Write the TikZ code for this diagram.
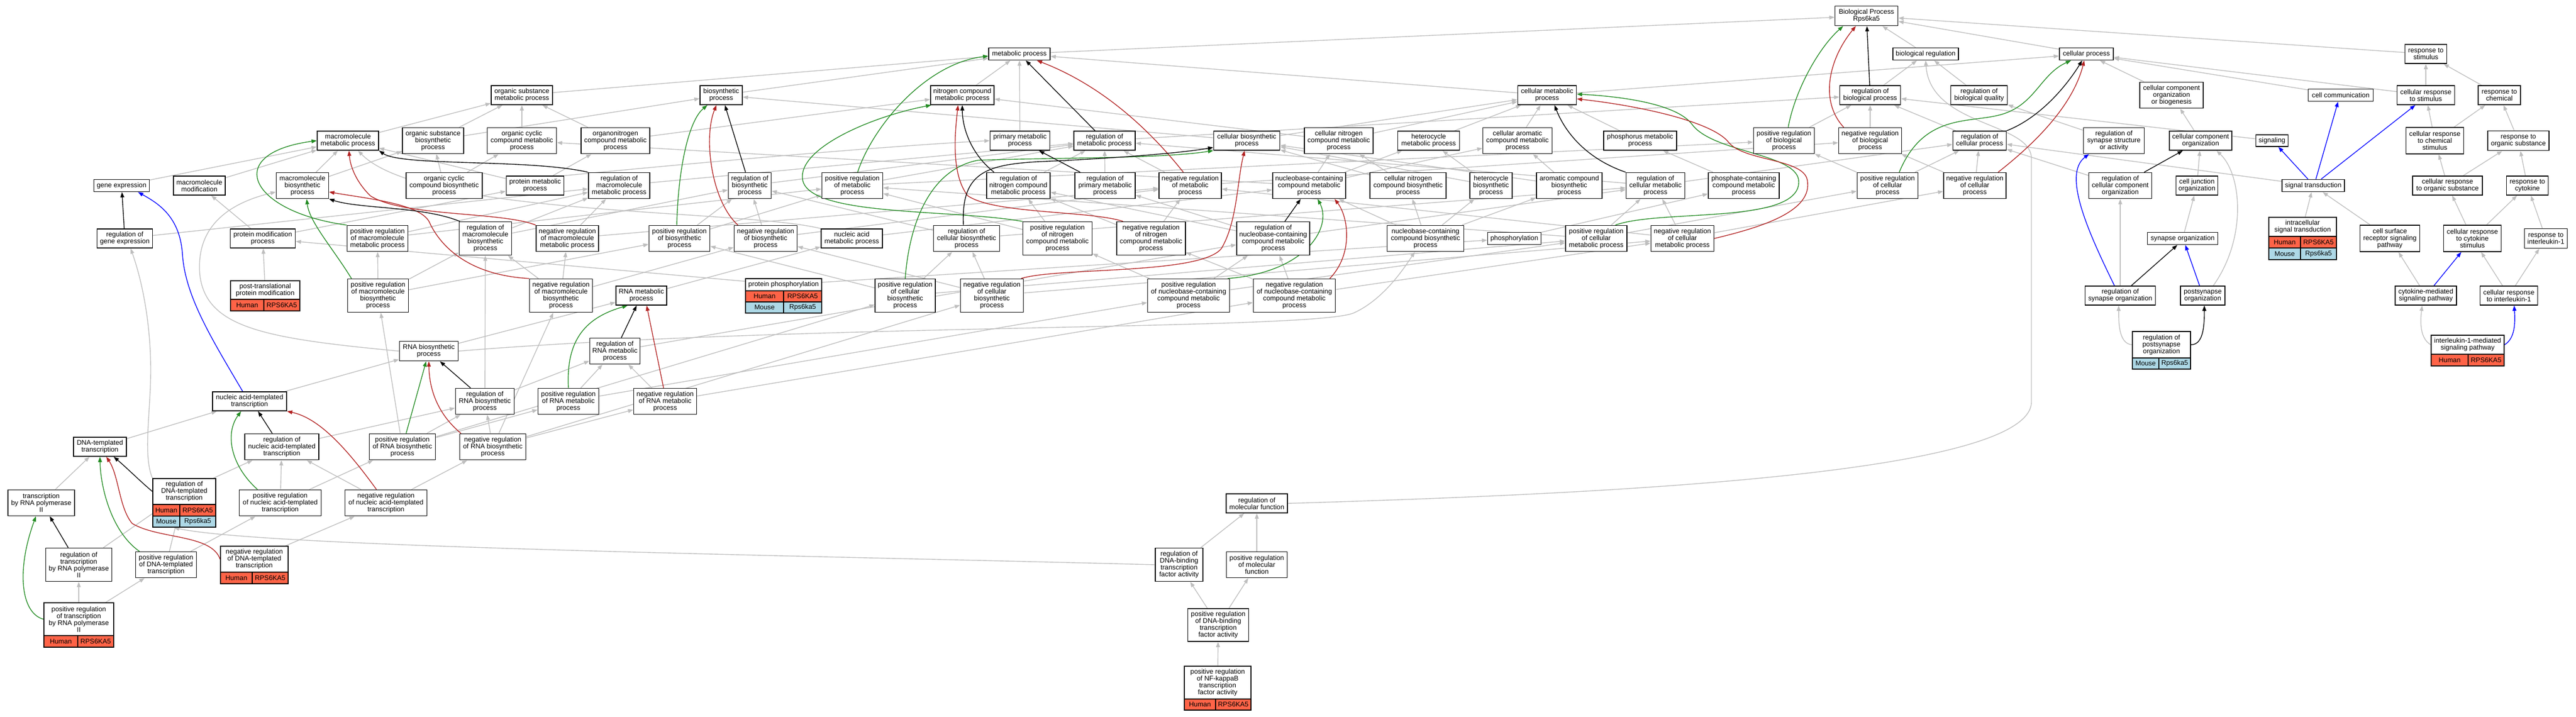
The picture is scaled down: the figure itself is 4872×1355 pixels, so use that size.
\documentclass[tikz,border=0pt]{standalone}
\usepackage{fontspec}
\setmainfont{Liberation Sans}
\usetikzlibrary{arrows.meta,backgrounds,calc}
\definecolor{cgray}{HTML}{BEBEBE}
\definecolor{cgreen}{HTML}{228B22}
\definecolor{cred}{HTML}{B22222}
\definecolor{cblue}{HTML}{0000FF}
\definecolor{human}{HTML}{FF6347}
\definecolor{mouse}{HTML}{ADD8E6}
\tikzset{
  gonode/.style={draw=black,line width=0.8pt,fill=white,inner sep=0pt,align=center,font=\fontsize{6.4pt}{6.5pt}\selectfont},
  cellnode/.style={draw=black,line width=0.8pt,inner sep=0pt,font=\fontsize{6.4pt}{6.5pt}\selectfont},
  arr/.style={line width=0.7pt,-{Triangle[length=5pt,width=3.6pt]}},
  eg/.style={arr,draw=cgray},
  ek/.style={arr,draw=black},
  egr/.style={arr,draw=cgreen},
  erd/.style={arr,draw=cred},
  ebl/.style={arr,draw=cblue},
}
\newcommand{\gonode}[6]{\node[gonode,minimum width=#4*0.5pt,minimum height=#5*0.5pt] (#1) at (#2,#3) {#6};}
\newcommand{\gorow}[9]{%
  \node[cellnode,fill=#7,minimum width=(#3-#2)*0.5pt,minimum height=(#6-#5)*0.5pt] (#1L) at ({(#2+#3)/2},{(#5+#6)/2}) {#8};
  \node[cellnode,fill=#7,minimum width=(#4-#3)*0.5pt,minimum height=(#6-#5)*0.5pt] (#1R) at ({(#3+#4)/2},{(#5+#6)/2}) {#9};}
\begin{document}
\begin{tikzpicture}[x=0.5pt,y=-0.5pt]
\useasboundingbox (0,0) rectangle (4872,1355);
% level 0-2
\gonode{BP}{3530}{30}{119}{37}{Biological Process\\Rps6ka5}
\gonode{MP}{1928}{102}{116}{23}{metabolic process}
\gonode{BR}{3642}{102}{124}{23}{biological regulation}
\gonode{CP}{3946}{102}{102}{23}{cellular process}
\gonode{RS}{4588}{102}{79}{36}{response to\\stimulus}
\gonode{OSMP}{987}{180}{116}{36}{organic substance\\metabolic process}
\gonode{BSP}{1364}{180}{80}{36}{biosynthetic\\process}
\gonode{NCMP}{1820}{180}{120}{36}{nitrogen compound\\metabolic process}
\gonode{CMP}{2926}{180}{111}{36}{cellular metabolic\\process}
\gonode{RBP}{3537}{180}{115}{36}{regulation of\\biological process}
\gonode{RBQ}{3743}{180}{107}{36}{regulation of\\biological quality}
\gonode{CCOB}{4107}{180}{120}{49}{cellular component\\organization\\or biogenesis}
\gonode{CC}{4427}{180}{123}{23}{cell communication}
\gonode{CRS}{4588}{180}{109}{36}{cellular response\\to stimulus}
\gonode{RC}{4727}{180}{80}{36}{response to\\chemical}
% level 3
\gonode{MMP}{658}{266}{116}{36}{macromolecule\\metabolic process}
\gonode{OSBP}{819}{266}{116}{49}{organic substance\\biosynthetic\\process}
\gonode{OCCMP}{987}{266}{131}{49}{organic cyclic\\compound metabolic\\process}
\gonode{ONCMP}{1164}{266}{130}{49}{organonitrogen\\compound metabolic\\process}
\gonode{PMP}{1929}{266}{113}{36}{primary metabolic\\process}
\gonode{RMP}{2089}{266}{116}{36}{regulation of\\metabolic process}
\gonode{CBP}{2358}{266}{125}{36}{cellular biosynthetic\\process}
\gonode{CNCMP}{2532}{266}{130}{49}{cellular nitrogen\\compound metabolic\\process}
\gonode{HMP}{2702}{266}{117}{36}{heterocycle\\metabolic process}
\gonode{CACMP}{2870}{266}{131}{49}{cellular aromatic\\compound metabolic\\process}
\gonode{PhMP}{3102}{266}{138}{36}{phosphorus metabolic\\process}
\gonode{PRBP}{3374}{266}{115}{49}{positive regulation\\of biological\\process}
\gonode{NRBP}{3537}{266}{119}{49}{negative regulation\\of biological\\process}
\gonode{RCP}{3744}{266}{101}{36}{regulation of\\cellular process}
\gonode{RSSA}{3998}{266}{115}{49}{regulation of\\synapse structure\\or activity}
\gonode{CCO}{4162}{266}{118}{36}{cellular component\\organization}
\gonode{SIG}{4297}{266}{61}{22}{signaling}
\gonode{CRCS}{4605}{266}{109}{50}{cellular response\\to chemical\\stimulus}
\gonode{ROS}{4763}{266}{116}{37}{response to\\organic substance}
% level 4
\gonode{GE}{230}{351}{105}{23}{gene expression}
\gonode{MM}{377}{351}{98}{36}{macromolecule\\modification}
\gonode{MBP}{572}{351}{99}{49}{macromolecule\\biosynthetic\\process}
\gonode{OCCBP}{840}{351}{144}{49}{organic cyclic\\compound biosynthetic\\process}
\gonode{PrMP}{1012}{351}{109}{36}{protein metabolic\\process}
\gonode{RMMP}{1171}{351}{116}{49}{regulation of\\macromolecule\\metabolic process}
\gonode{RBSP}{1418}{351}{81}{49}{regulation of\\biosynthetic\\process}
\gonode{PRMP}{1612}{351}{115}{49}{positive regulation\\of metabolic\\process}
\gonode{RNCMP}{1926}{351}{120}{49}{regulation of\\nitrogen compound\\metabolic process}
\gonode{RPMP}{2090}{351}{114}{49}{regulation of\\primary metabolic\\process}
\gonode{NRMP}{2251}{351}{118}{49}{negative regulation\\of metabolic\\process}
\gonode{NCCMP}{2476}{351}{138}{49}{nucleobase-containing\\compound metabolic\\process}
\gonode{CNCBP}{2663}{351}{144}{49}{cellular nitrogen\\compound biosynthetic\\process}
\gonode{HBP}{2820}{351}{80}{49}{heterocycle\\biosynthetic\\process}
\gonode{ACBP}{2968}{351}{124}{49}{aromatic compound\\biosynthetic\\process}
\gonode{RCMP}{3131}{351}{111}{49}{regulation of\\cellular metabolic\\process}
\gonode{PCCMP}{3298}{351}{134}{49}{phosphate-containing\\compound metabolic\\process}
\gonode{PRCP}{3570}{351}{115}{49}{positive regulation\\of cellular\\process}
\gonode{NRCP}{3735}{351}{118}{49}{negative regulation\\of cellular\\process}
\gonode{RCCO}{4010}{351}{119}{49}{regulation of\\cellular component\\organization}
\gonode{CJO}{4155}{351}{79}{36}{cell junction\\organization}
\gonode{ST}{4375}{351}{118}{23}{signal transduction}
\gonode{CROS}{4629}{351}{132}{36}{cellular response\\to organic substance}
\gonode{RCy}{4780}{351}{79}{36}{response to\\cytokine}
% level 5
\gonode{RGE}{236}{451}{105}{36}{regulation of\\gene expression}
\gonode{PMod}{497}{451}{123}{36}{protein modification\\process}
\gonode{PRMMP}{714}{451}{115}{49}{positive regulation\\of macromolecule\\metabolic process}
\gonode{RMBP}{918}{451}{99}{63}{regulation of\\macromolecule\\biosynthetic\\process}
\gonode{NRMMP}{1073}{451}{118}{49}{negative regulation\\of macromolecule\\metabolic process}
\gonode{PRBSP}{1285}{451}{115}{49}{positive regulation\\of biosynthetic\\process}
\gonode{NRBSP}{1448}{451}{119}{49}{negative regulation\\of biosynthetic\\process}
\gonode{NAMP}{1611}{451}{116}{36}{nucleic acid\\metabolic process}
\gonode{RCBP}{1828}{451}{125}{49}{regulation of\\cellular biosynthetic\\process}
\gonode{PRNCMP}{2000}{451}{131}{63}{positive regulation\\of nitrogen\\compound metabolic\\process}
\gonode{NRNCMP}{2177}{451}{130}{63}{negative regulation\\of nitrogen\\compound metabolic\\process}
\gonode{RNCCMP}{2408}{451}{138}{63}{regulation of\\nucleobase-containing\\compound metabolic\\process}
\gonode{NCCBP}{2696}{451}{145}{49}{nucleobase-containing\\compound biosynthetic\\process}
\gonode{PHOS}{2864}{451}{101}{23}{phosphorylation}
\gonode{PRCMP}{3019}{451}{116}{49}{positive regulation\\of cellular\\metabolic process}
\gonode{NRCMP}{3182}{451}{119}{49}{negative regulation\\of cellular\\metabolic process}
\gonode{SO}{4128}{451}{133}{23}{synapse organization}
\gonode{IST}{4355}{429}{128}{36}{intracellular\\signal transduction}
\gorow{ISTh}{4291}{4351}{4419}{447}{469}{human}{Human}{RPS6KA5}
\gorow{ISTm}{4291}{4351}{4419}{469}{491}{mouse}{Mouse}{Rps6ka5}
\gonode{CSRSP}{4520}{451}{113}{50}{cell surface\\receptor signaling\\pathway}
\gonode{CRCyS}{4676}{451}{109}{50}{cellular response\\to cytokine\\stimulus}
\gonode{RIL1}{4815}{451}{81}{37}{response to\\interleukin-1}
% level 6
\gonode{PTPM}{501.5}{548.5}{131}{35}{post-translational\\protein modification}
\gorow{PTPMh}{436}{499}{567}{566}{588}{human}{Human}{RPS6KA5}
\gonode{PRMBP}{715}{559}{115}{63}{positive regulation\\of macromolecule\\biosynthetic\\process}
\gonode{NRMBP}{1061}{559}{119}{63}{negative regulation\\of macromolecule\\biosynthetic\\process}
\gonode{RNAMP}{1213}{559}{96}{36}{RNA metabolic\\process}
\gonode{PPhos}{1482}{538.5}{144}{23}{protein phosphorylation}
\gorow{PPhosh}{1410}{1482}{1554}{550}{571}{human}{Human}{RPS6KA5}
\gorow{PPhosm}{1410}{1482}{1554}{571}{592}{mouse}{Mouse}{Rps6ka5}
\gonode{PRCBP}{1712}{559}{114}{63}{positive regulation\\of cellular\\biosynthetic\\process}
\gonode{NRCBP}{1876}{559}{119}{63}{negative regulation\\of cellular\\biosynthetic\\process}
\gonode{PRNCCMP}{2248}{559}{155}{63}{positive regulation\\of nucleobase-containing\\compound metabolic\\process}
\gonode{NRNCCMP}{2448}{559}{155}{63}{negative regulation\\of nucleobase-containing\\compound metabolic\\process}
\gonode{RSO}{4010}{559}{133}{36}{regulation of\\synapse organization}
\gonode{PSO}{4166}{559}{84}{36}{postsynapse\\organization}
\gonode{CMSP}{4588}{559}{116}{36}{cytokine-mediated\\signaling pathway}
\gonode{CRIL1}{4745}{559}{109}{36}{cellular response\\to interleukin-1}
% level 7
\gonode{RNABP}{811}{664}{111}{37}{RNA biosynthetic\\process}
\gonode{RRNAMP}{1163}{664}{95}{49}{regulation of\\RNA metabolic\\process}
\gonode{RPSO}{4088}{652}{110}{50}{regulation of\\postsynapse\\organization}
\gorow{RPSOm}{4033}{4083}{4143}{677}{698}{mouse}{Mouse}{Rps6ka5}
\gonode{IL1SP}{4667}{652}{138}{36}{interleukin-1-mediated\\signaling pathway}
\gorow{IL1SPh}{4598}{4668}{4736}{670}{692}{human}{Human}{RPS6KA5}
% level 8
\gonode{NATT}{472}{759}{140}{36}{nucleic acid-templated\\transcription}
\gonode{RRBP}{917}{759}{111}{49}{regulation of\\RNA biosynthetic\\process}
\gonode{PRRNAMP}{1075}{759}{115}{49}{positive regulation\\of RNA metabolic\\process}
\gonode{NRRNAMP}{1258}{759}{119}{49}{negative regulation\\of RNA metabolic\\process}
% level 9
\gonode{DTT}{189}{845}{100}{36}{DNA-templated\\transcription}
\gonode{RNATT}{533}{845}{140}{49}{regulation of\\nucleic acid-templated\\transcription}
\gonode{PRRBP}{761}{845}{125}{49}{positive regulation\\of RNA biosynthetic\\process}
\gonode{NRRBP}{932}{845}{125}{49}{negative regulation\\of RNA biosynthetic\\process}
% level 10
\gonode{TRP2}{78}{951}{126}{49}{transcription\\by RNA polymerase\\II}
\gonode{RDTT}{348.5}{929.5}{119}{49}{regulation of\\DNA-templated\\transcription}
\gorow{RDTTh}{289}{340}{408}{954}{976}{human}{Human}{RPS6KA5}
\gorow{RDTTm}{289}{340}{408}{976}{997}{mouse}{Mouse}{Rps6ka5}
\gonode{PRNATT}{530}{951}{155}{49}{positive regulation\\of nucleic acid-templated\\transcription}
\gonode{NRNATT}{730}{951}{155}{49}{negative regulation\\of nucleic acid-templated\\transcription}
\gonode{RMF}{2377}{952}{116}{36}{regulation of\\molecular function}
% level 11
\gonode{RTRP2}{149}{1068}{125}{63}{regulation of\\transcription\\by RNA polymerase\\II}
\gonode{PRDTT}{314}{1068}{115}{49}{positive regulation\\of DNA-templated\\transcription}
\gonode{NRDTT}{481}{1057.5}{128}{49}{negative regulation\\of DNA-templated\\transcription}
\gorow{NRDTTh}{417}{477}{545}{1082}{1104}{human}{Human}{RPS6KA5}
\gonode{RDBTFA}{2230}{1068}{90}{63}{regulation of\\DNA-binding\\transcription\\factor activity}
\gonode{PRMF}{2377}{1068}{115}{49}{positive regulation\\of molecular\\function}
% level 12-13
\gonode{PRTRP2}{149}{1171}{132}{62}{positive regulation\\of transcription\\by RNA polymerase\\II}
\gorow{PRTRP2h}{83}{147}{215}{1202}{1224}{human}{Human}{RPS6KA5}
\gonode{PRDBTFA}{2304}{1182}{115}{62}{positive regulation\\of DNA-binding\\transcription\\factor activity}
\gonode{PRNFKB}{2303}{1291}{126}{62}{positive regulation\\of NF-kappaB\\transcription\\factor activity}
\gorow{PRNFKBh}{2240}{2299}{2366}{1322}{1343}{human}{Human}{RPS6KA5}

\begin{scope}[on background layer]
\fill[white] (0,0) rectangle (4872,1355);
\foreach \a/\b in {MP/BP,BR/BP,CP/BP,RS/BP,OSMP/MP,BSP/MP,NCMP/MP,PMP/MP,CMP/MP,CMP/CP,RBP/BR,RBQ/BR,CCOB/CP,CC/CP,CRS/CP,CRS/RS,RC/RS,
MMP/OSMP,OSBP/OSMP,OSBP/BSP,OCCMP/OSMP,ONCMP/OSMP,ONCMP/NCMP,CBP/CMP,CBP/BSP,CNCMP/CMP,CNCMP/NCMP,HMP/CMP,CACMP/CMP,PhMP/CMP,RMP/RBP,PRBP/RBP,NRBP/RBP,RCP/RBP,RSSA/RBQ,CCO/CCOB,SIG/RBP,CRCS/CRS,CRCS/RC,ROS/RC,
GE/MMP,MM/MMP,MBP/MMP,MBP/OSBP,OCCBP/OSBP,OCCBP/OCCMP,PrMP/ONCMP,PrMP/MMP,RMMP/RMP,RBSP/RMP,PRMP/RMP,PRMP/PRBP,NRMP/RMP,NRMP/NRBP,RNCMP/RMP,RPMP/RMP,NCCMP/CNCMP,NCCMP/HMP,NCCMP/CACMP,NCCMP/OCCMP,CNCBP/CNCMP,CNCBP/CBP,HBP/HMP,HBP/CBP,ACBP/CACMP,ACBP/CBP,RCMP/RMP,RCMP/RCP,PCCMP/PhMP,PRCP/PRBP,PRCP/RCP,NRCP/NRBP,NRCP/RCP,RCCO/RCP,CJO/CCO,ST/RCP,CROS/CRCS,CROS/ROS,RCy/ROS,
RGE/RMMP,PMod/MM,PMod/PrMP,PRMMP/RMMP,PRMMP/PRMP,RMBP/RMMP,RMBP/RBSP,NRMMP/RMMP,NRMMP/NRMP,PRBSP/RBSP,PRBSP/PRMP,NRBSP/RBSP,NRBSP/NRMP,NAMP/NCCMP,RCBP/RBSP,RCBP/RCMP,PRNCMP/RNCMP,PRNCMP/PRMP,NRNCMP/RNCMP,NRNCMP/NRMP,RNCCMP/RNCMP,RNCCMP/RPMP,RNCCMP/RCMP,NCCBP/NCCMP,NCCBP/CNCBP,NCCBP/HBP,NCCBP/ACBP,PHOS/PCCMP,PRCMP/RCMP,PRCMP/PRMP,PRCMP/PRCP,NRCMP/RCMP,NRCMP/NRMP,NRCMP/NRCP,SO/CJO,IST/ST,CSRSP/ST,CRCyS/CROS,CRCyS/RCy,RIL1/RCy,
PTPM/PMod,PRMBP/PRMMP,PRMBP/RMBP,PRMBP/PRBSP,NRMBP/RMBP,NRMBP/NRMMP,NRMBP/NRBSP,RNAMP/NAMP,PPhos/PMod,PPhos/PHOS,PRCBP/RCBP,PRCBP/PRBSP,PRCBP/PRCMP,NRCBP/RCBP,NRCBP/NRBSP,NRCBP/NRCMP,PRNCCMP/RNCCMP,PRNCCMP/PRNCMP,PRNCCMP/PRCMP,NRNCCMP/RNCCMP,NRNCCMP/NRNCMP,NRNCCMP/NRCMP,RSO/RCCO,CMSP/CSRSP,CRIL1/CRCyS,CRIL1/RIL1,
RNABP/RNAMP,RRNAMP/RNCCMP,NATT/RNABP,RRBP/RRNAMP,RRBP/RMBP,PRRNAMP/RRNAMP,PRRNAMP/PRNCCMP,NRRNAMP/RRNAMP,NRRNAMP/NRNCCMP,DTT/NATT,RNATT/RRBP,PRRBP/RRBP,PRRBP/PRRNAMP,PRRBP/PRMBP,PRRBP/PRCBP,NRRBP/RRBP,NRRBP/NRRNAMP,NRRBP/NRMBP,NRRBP/NRCBP,TRP2/DTT,RDTT/RNATT,PRNATT/RNATT,PRNATT/PRRBP,NRNATT/RNATT,NRNATT/NRRBP,RTRP2/RDTT,PRDTT/RDTT,PRDTT/PRNATT,NRDTT/NRNATT,RDBTFA/RMF,PRMF/RMF,PRTRP2/RTRP2,PRTRP2/PRDTT,PRDBTFA/RDBTFA,PRDBTFA/PRMF,PRNFKB/PRDBTFA}
  {\draw[eg] (\a) -- (\b);}
% gray curved
\draw[eg] (IL1SP.west) .. controls (4577,640) and (4577,610) .. ($(CMSP.south)+(-7,0)$);
\draw[eg] (RPSO.west) .. controls (4007,650) and (4007,610) .. ($(RSO.south)+(-3,0)$);
\draw[eg] ($(PSO.north)+(20,0)$) .. controls (4250,450) and (4240,330) .. ($(CCO.south)+(30,0)$);
\draw[eg] (RMF.east) .. controls (3000,935) and (3842,900) .. (3842,760) -- (3842,300) .. controls (3842,230) and (3650,240) .. (BR.south);
\draw[eg] (RDBTFA.west) .. controls (1500,1050) and (500,1035) .. ($(RDTTmL.south east)+(-12,0)$);
\draw[eg] (RDTT.north west) .. controls (270,860) and (285,780) .. (285,700) .. controls (285,600) and (265,520) .. ($(RGE.south)+(11,0)$);
\draw[eg] (RNABP.west) .. controls (500,640) and (390,620) .. (378,520) .. controls (370,430) and (430,385) .. ($(MBP.west)+(0,12)$);
\draw[eg] (RNABP.east) .. controls (1500,612) and (2480,625) .. (2560,592) .. controls (2620,565) and (2660,500) .. ($(NCCBP.south)+(-20,0)$);
\draw[eg] (PrMP.north east) .. controls (1400,300) and (1700,275) .. (PMP.west);
\draw[eg] (NAMP.north west) .. controls (1400,395) and (800,410) .. ($(MMP.south)+(19,0)$);
% green
\draw[egr] (PRMMP.north west) .. controls (470,400) and (420,290) .. (MMP.west);
\draw[egr] ($(PRMBP.north west)+(8,0)$) .. controls (630,470) and (585,420) .. ($(MBP.south)+(8,0)$);
\draw[egr] ($(PRBSP.north)+(-5,0)$) .. controls (1282,330) and (1300,230) .. ($(BSP.south)+(-26,0)$);
\draw[egr] ($(PRMP.north)+(10,0)$) .. controls (1650,240) and (1750,120) .. ($(MP.west)+(0,4)$);
\draw[egr] (PRNCMP.north west) .. controls (1800,395) and (1530,410) .. (1518,340) .. controls (1508,280) and (1650,220) .. ($(NCMP.south west)+(2,0)$);
\draw[egr] (PRCBP.north) .. controls (1720,420) and (1760,320) .. (1850,303) .. controls (2000,298) and (2200,300) .. (CBP.south west);
\draw[egr] ($(PRNCCMP.north)+(74,0)$) .. controls (2470,515) and (2520,430) .. ($(NCCMP.south)+(16,0)$);
\draw[egr] ($(PRCMP.north)+(36,0)$) .. controls (3140,395) and (3400,425) .. (3402,345) .. controls (3404,290) and (3240,290) .. (3200,235) .. controls (3170,195) and (3060,182) .. ($(CMP.east)+(0,-2)$);
\draw[egr] ($(PRBP.north)+(8,0)$) .. controls (3395,170) and (3440,90) .. ($(BP.south)+(-44,0)$);
\draw[egr] ($(PRCP.north)+(22,0)$) .. controls (3640,210) and (3730,235) .. (3790,215) .. controls (3850,195) and (3860,140) .. ($(CP.south)+(-29,0)$);
\draw[egr] ($(PRNATT.north)+(-43,0)$) .. controls (436,880) and (425,820) .. ($(NATT.south)+(-16,0)$);
\draw[egr] ($(PRRBP.north)+(7,0)$) -- ($(RNABP.south)+(-5,0)$);
\draw[egr] ($(PRDTT.north west)+(8,0)$) .. controls (210,1005) and (190,920) .. (DTT.south);
\draw[egr] (PRTRP2.west) .. controls (40,1160) and (30,1080) .. ($(TRP2.south)+(-10,0)$);
\draw[egr] (PRRNAMP.north) .. controls (1070,640) and (1110,600) .. ($(RNAMP.south)+(-26,0)$);
% red
\draw[erd] (NRMMP.north west) .. controls (950,400) and (760,410) .. (700,370) .. controls (670,340) and (662,310) .. ($(MMP.south)+(2,0)$);
\draw[erd] (NRMBP.north west) .. controls (880,520) and (830,460) .. (812,420) .. controls (795,385) and (690,375) .. ($(MBP.east)+(0,12)$);
\draw[erd] ($(NRBSP.north west)+(8,0)$) .. controls (1345,380) and (1330,260) .. ($(BSP.south)+(-9,0)$);
\draw[erd] ($(NRMP.north)+(-13,0)$) .. controls (2170,240) and (2080,160) .. ($(MP.south)+(33,0)$);
\draw[erd] ($(NRNCMP.north west)+(13,0)$) .. controls (2060,398) and (1880,405) .. (1830,370) .. controls (1800,330) and (1805,260) .. ($(NCMP.south)+(-8,0)$);
\draw[erd] ($(NRCBP.north east)+(-5,0)$) .. controls (2000,505) and (2270,520) .. (2310,470) .. controls (2340,420) and (2340,340) .. ($(CBP.south)+(-4,0)$);
\draw[erd] ($(NRNCCMP.north)+(67,0)$) .. controls (2560,480) and (2550,410) .. ($(NCCMP.south)+(48,0)$);
\draw[erd] (NRCMP.east) .. controls (3330,430) and (3430,400) .. (3418,340) .. controls (3410,300) and (3300,305) .. (3270,270) .. controls (3240,230) and (3100,200) .. ($(CMP.east)+(0,7)$);
\draw[erd] ($(NRBP.north)+(-50,0)$) .. controls (3440,190) and (3460,110) .. ($(BP.south)+(-20,0)$);
\draw[erd] ($(NRCP.north)+(44,0)$) .. controls (3850,270) and (3920,200) .. ($(CP.south)+(-4,0)$);
\draw[erd] ($(NRNATT.north)+(-18,0)$) .. controls (650,840) and (600,790) .. (NATT.south east);
\draw[erd] ($(NRRBP.north)+(-60,0)$) .. controls (830,785) and (812,740) .. (RNABP.south);
\draw[erd] (NRDTT.west) .. controls (400,1010) and (300,1020) .. (250,990) .. controls (225,960) and (225,900) .. ($(DTT.south)+(12,0)$);
\draw[erd] ($(NRRNAMP.north)+(-3,0)$) -- ($(RNAMP.south)+(10,0)$);
% black
\draw[ek] (RMMP.north west) .. controls (1000,300) and (760,315) .. (MMP.south east);
\draw[ek] ($(RMBP.north west)+(2,0)$) .. controls (800,390) and (680,395) .. (MBP.south east);
\draw[ek] ($(RBSP.north)+(-8,0)$) -- ($(BSP.south)+(7,0)$);
\draw[ek] ($(RMP.north)+(-18,0)$) -- ($(MP.south)+(12,0)$);
\draw[ek] ($(RNCMP.north)+(-46,0)$) .. controls (1835,290) and (1820,240) .. (NCMP.south);
\draw[ek] ($(RPMP.north)+(-47,0)$) -- ($(PMP.south)+(36,0)$);
\draw[ek] ($(RCBP.north)+(-6,0)$) .. controls (1818,330) and (1860,312) .. (1960,306) .. controls (2100,300) and (2230,290) .. ($(CBP.south west)+(0,-6)$);
\draw[ek] (RCMP.north west) .. controls (3000,300) and (2960,250) .. ($(CMP.south)+(14,0)$);
\draw[ek] (RBP) -- (BP);
\draw[ek] (RCP.north east) .. controls (3860,222) and (3910,160) .. ($(CP.south)+(-8,0)$);
\draw[ek] (RCCO) -- (CCO);
\draw[ek] ($(RSO.north)+(21,0)$) -- ($(SO.south)+(-10,0)$);
\draw[ek] (RPSO.east) .. controls (4169,652) and (4169,610) .. ($(PSO.south)+(3,0)$);
\draw[ek] (RGE) -- (GE);
\draw[ek] ($(RNCCMP.north)+(22,0)$) -- ($(NCCMP.south)+(-16,0)$);
\draw[ek] ($(RRBP.north)+(-27,0)$) -- ($(RNABP.south)+(21,0)$);
\draw[ek] ($(RNATT.north)+(-18,0)$) -- ($(NATT.south)+(16,0)$);
\draw[ek] (RDTT.west) .. controls (265,910) and (240,885) .. ($(DTT.south)+(26,0)$);
\draw[ek] ($(RTRP2.north)+(-20,0)$) -- ($(TRP2.south)+(16,0)$);
\draw[ek] (RRNAMP) -- (RNAMP);
% blue
\draw[ebl] ($(NATT.north)+(-13,0)$) .. controls (400,640) and (350,560) .. (345,480) .. controls (340,410) and (300,385) .. ($(GE.south)+(31,0)$);
\draw[ebl] ($(RSO.north)+(-11,0)$) .. controls (3950,440) and (3900,330) .. ($(RSSA.south)+(-47,0)$);
\draw[ebl] ($(PSO.north)+(-6,0)$) -- ($(SO.south)+(5,0)$);
\draw[ebl] ($(ST.north)+(-10,0)$) -- ($(SIG.south)+(12,0)$);
\draw[ebl] ($(ST.north)+(5,0)$) -- ($(CC.south)+(-5,0)$);
\draw[ebl] ($(ST.north)+(15,0)$) -- ($(CRS.south)+(-20,0)$);
\draw[ebl] (CMSP) -- (CRCyS);
\draw[ebl] (IL1SP.east) .. controls (4757,640) and (4757,610) .. ($(CRIL1.south)+(10,0)$);
\end{scope}
\end{tikzpicture}
\end{document}
